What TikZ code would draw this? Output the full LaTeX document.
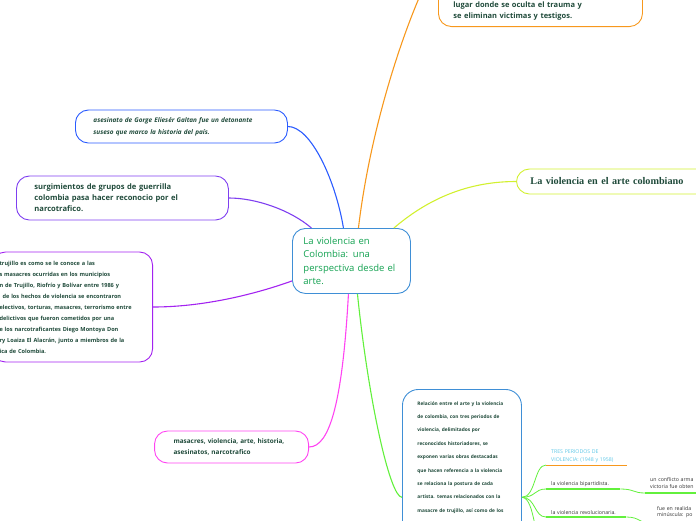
\documentclass[tikz,border=0pt]{standalone}
\usepackage{fontspec}
\setmainfont{Open Sans}
\newfontfamily\titulofont{Liberation Serif}
\definecolor{naranja}{HTML}{F7981D}
\definecolor{azul}{HTML}{2B5CFF}
\definecolor{violeta}{HTML}{7F3FF0}
\definecolor{morado}{HTML}{A323F0}
\definecolor{celeste}{HTML}{3F8FD6}
\definecolor{verdetxt}{HTML}{12A150}
\definecolor{lima}{HTML}{D2F030}
\definecolor{fucsia}{HTML}{FF44F2}
\definecolor{verde}{HTML}{62F03C}
\definecolor{textoscuro}{HTML}{1F4A3A}
\definecolor{cian}{HTML}{5CC6E6}
\definecolor{gris}{HTML}{333333}

\begin{document}
\begin{tikzpicture}[x=1pt,y=-1pt,
    caja/.style={draw, rounded corners=13pt, line width=0.9pt, align=left, text=textoscuro},
    rama/.style={line width=1.1pt},
    subtema/.style={align=left, inner xsep=5pt, inner ysep=2.5pt, text=gris, font=\fontsize{5.2}{8}\selectfont}]
    \clip (0,0) rectangle (696,520);

    \node[caja, draw=celeste, anchor=north west, text width=96pt, inner xsep=11pt, minimum height=65pt,
      text=verdetxt, font=\fontsize{9.5}{13.3}\selectfont] (central) at (292,228)
      {La violencia en\\Colombia: una\\perspectiva desde el\\arte.};

    \node[caja, draw=naranja, anchor=south west, text width=174pt, inner xsep=15pt, inner ysep=6pt,
      text height=109pt, font=\bfseries\fontsize{7.5}{11}\selectfont] (lugar) at (438,27)
      {lugar donde se oculta el trauma y\\se eliminan victimas y testigos.};
    \node[caja, draw=azul, anchor=west, text width=176pt, inner xsep=18pt, minimum height=33pt,
      font=\bfseries\itshape\fontsize{6.4}{12}\selectfont] (gaitan) at (75,126.5)
      {asesinato de Gorge Eliesér Galtan fue un detonante\\suseso que marco la historia del país.};
    \node[caja, draw=violeta, anchor=west, text width=176pt, inner xsep=18pt, minimum height=44pt,
      font=\bfseries\fontsize{7.6}{11}\selectfont] (guerrilla) at (16,198)
      {surgimientos de grupos de guerrilla\\colombia pasa hacer reconocio por el\\narcotrafico.};
    \node[caja, draw=morado, anchor=east, text width=146pt, inner xsep=7pt, minimum height=110pt,
      font=\bfseries\fontsize{5.6}{11}\selectfont] (trujillo) at (153,307)
      {trujillo es como se le conoce a las\\
       s masacres ocurridas en los municipios\\
       n de Trujillo, Riofrío y Bolívar entre 1986 y\\
       \hspace*{3pt}de los hechos de violencia se encontraron\\
       electivos, torturas, masacres, terrorismo entre\\
       delictivos que fueron cometidos por una\\
       e los narcotraficantes Diego Montoya Don\\
       ry Loaiza El Alacrán, junto a miembros de la\\
       ica de Colombia.};
    \node[caja, draw=lima, anchor=west, text width=175pt, inner xsep=14pt, minimum height=25pt,
      font=\titulofont\bfseries\fontsize{10.2}{11}\selectfont] (arte) at (516,181.5)
      {La violencia en el arte colombiano};
    \node[caja, draw=fucsia, anchor=east, text width=116pt, inner xsep=19pt, minimum height=32pt,
      font=\bfseries\fontsize{6.4}{11}\selectfont] (claves) at (309,447)
      {masacres, violencia, arte, historia,\\asesinatos, narcotrafico};
    \node[caja, draw=celeste, rounded corners=16pt, anchor=north west, text width=89pt, inner xsep=15pt,
      inner ysep=12pt, text depth=188pt, font=\bfseries\fontsize{4.8}{13.4}\selectfont] (relacion) at (402,389)
      {Relación entre el arte y la violencia\\
       de colombia, con tres periodos de\\
       violencia, delimitados por\\
       reconocidos historiadores, se\\
       exponen varias obras destacadas\\
       que hacen referencia a la violencia\\
       se relaciona la postura de cada\\
       artista. temas relacionados con la\\
       masacre de trujillo, así como de los};

    \node[subtema, anchor=south west, text width=71pt, text=cian] (periodos) at (546,465)
      {TRES PERIODOS DE\\VIOLENCIA: (1948 y 1958)};
    \node[subtema, anchor=south west, text width=64pt] (bipartidista) at (546,489)
      {la violencia bipartidista.};
    \node[subtema, anchor=south west, text width=70pt] (revolucionaria) at (546,517)
      {la violencia revolucionaria.};
    \node[subtema, anchor=south west, text width=60pt, inner ysep=4pt,
      font=\fontsize{5.2}{7}\selectfont] (conflicto) at (645,493)
      {un conflicto arma\\victoria fue obten};
    \node[subtema, anchor=south west, text width=60pt, inner ysep=6pt,
      font=\fontsize{5.2}{6.5}\selectfont] (minuscula) at (652,524)
      {fue en realida\\minúscula: po};
    \coordinate (otros) at (546,550);

    \draw[naranja, line width=0.9pt] (periodos.south west) -- (periodos.south east);
    \draw[verde, line width=1.4pt] (bipartidista.south west) -- (bipartidista.south east);
    \draw[verde, line width=1.4pt] (revolucionaria.south west) -- (revolucionaria.south east);
    \draw[verde, line width=1.4pt] (conflicto.south west) -- (conflicto.south east);
    \draw[verde, line width=1.4pt] (minuscula.south west) -- (minuscula.south east);

    \draw[rama, naranja] ([xshift=7pt]central.north) .. controls +(14,-118) and +(-22,35) .. (lugar.west);
    \draw[rama, azul] ([xshift=-8pt]central.north) .. controls +(-8,-48) and +(23,0) .. (gaitan.east);
    \draw[rama, violeta] ([xshift=-40pt]central.north) .. controls +(-21,-18) and +(27,0) .. (guerrilla.east);
    \draw[rama, morado] ([yshift=-20pt]central.west) .. controls +(-42,15) and +(47,0) .. (trujillo.east);
    \draw[rama, lima] ([xshift=-17pt]central.north east) .. controls +(27,-23) and +(-56,0) .. (arte.west);
    \draw[rama, fucsia] ([xshift=-3pt]central.south) .. controls +(-6,107) and +(21,0) .. (claves.east);
    \draw[rama, verde] ([xshift=6pt]central.south) .. controls +(11,107) and +(-12,0) .. (relacion.west);

    \foreach \destino in {periodos.south west,bipartidista.south west,revolucionaria.south west,otros}
      \draw[verde, line width=0.8pt] (relacion.east) .. controls +(14,0) and +(-12,0) .. (\destino);
    \draw[verde, line width=0.8pt] (bipartidista.south east) .. controls +(14,0) and +(-12,0) .. (conflicto.south west);
    \draw[verde, line width=0.8pt] (revolucionaria.south east) .. controls +(14,0) and +(-12,0) .. (minuscula.south west);
  \end{tikzpicture}
\end{document}
